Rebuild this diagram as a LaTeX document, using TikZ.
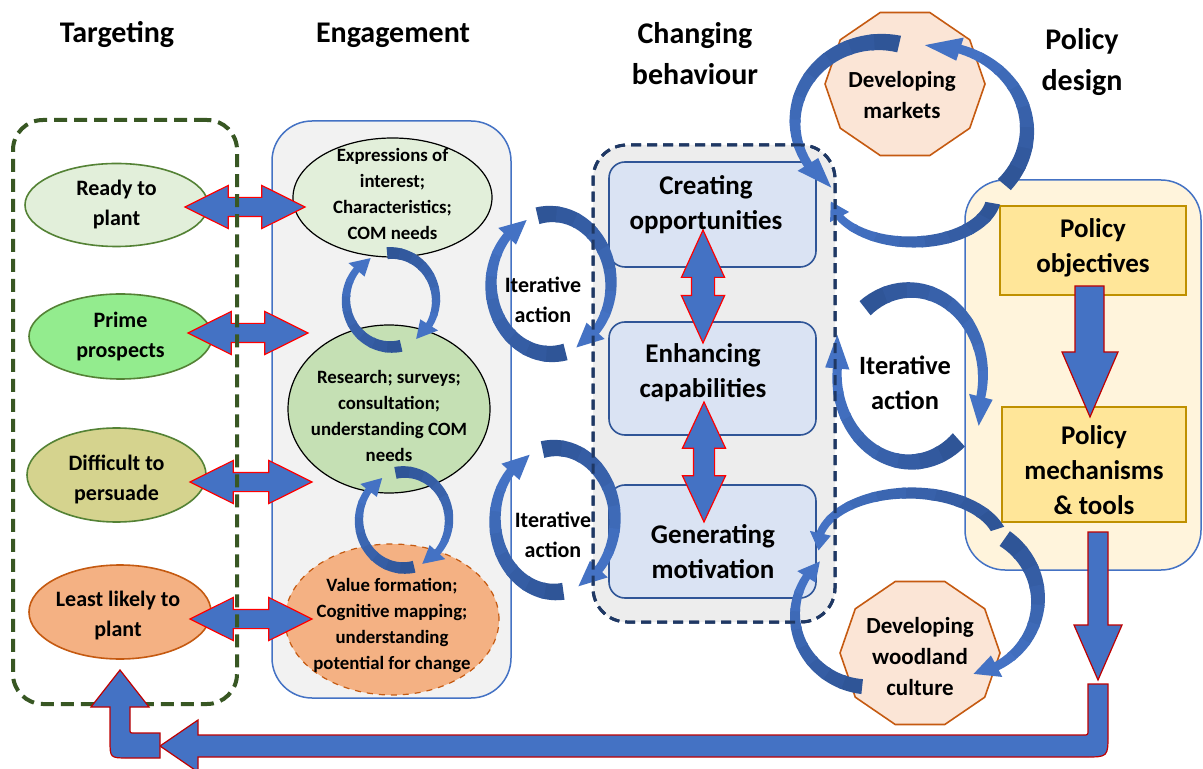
\documentclass[tikz,border=0pt]{standalone}
\usepackage{fontspec}
\setmainfont{Carlito}
\usetikzlibrary{shapes.geometric,shapes.arrows}
\definecolor{tgtline}{HTML}{385723}
\definecolor{readyfill}{HTML}{E2EFDA}
\definecolor{primefill}{HTML}{93EC8E}
\definecolor{difffill}{HTML}{D5D38E}
\definecolor{leastfill}{HTML}{F4B183}
\definecolor{gline}{HTML}{548235}
\definecolor{oline}{HTML}{C55A11}
\definecolor{engfill}{HTML}{F2F2F2}
\definecolor{blueline}{HTML}{4472C4}
\definecolor{resfill}{HTML}{C5E0B4}
\definecolor{chgfill}{HTML}{EDEDED}
\definecolor{chgline}{HTML}{1F3864}
\definecolor{boxfill}{HTML}{DAE3F3}
\definecolor{boxline}{HTML}{2F5597}
\definecolor{polfill}{HTML}{FFF4DC}
\definecolor{objfill}{HTML}{FFE699}
\definecolor{objline}{HTML}{BF9000}
\definecolor{octfill}{HTML}{FBE5D6}
\definecolor{arrblue}{HTML}{4472C4}
\definecolor{cdark}{HTML}{2F5597}
\definecolor{clight}{HTML}{4472C4}
\definecolor{redd}{HTML}{C00000}
\def\hf{1.3}
\def\tr{0}
% circular tapered arrow: cx cy rx ry tailangle endangle tipangle tailwidth endwidth
\newcommand\carrow[9]{%
  \foreach \k in {0,...,7}{%
    \pgfmathsetmacro\ta{(#5)+((#6)-(#5))*\k/8}%
    \pgfmathsetmacro\tb{(#5)+((#6)-(#5))*(\k+1.15)/8}%
    \pgfmathtruncatemacro\pc{100-\k*100/7}%
    \fill[cdark!\pc!clight] plot[domain=\ta:\tb,samples=6] ({#1+(#3+((#8)+((#9)-(#8))*(\x-(#5))/((#6)-(#5)))/2)*cos(\x)},{#2+(#4+((#8)+((#9)-(#8))*(\x-(#5))/((#6)-(#5)))/2)*sin(\x)}) -- plot[domain=\tb:\ta,samples=6] ({#1+(#3-((#8)+((#9)-(#8))*(\x-(#5))/((#6)-(#5)))/2)*cos(\x)},{#2+(#4-((#8)+((#9)-(#8))*(\x-(#5))/((#6)-(#5)))/2)*sin(\x)}) -- cycle;
  }%
  \fill[clight] ({#1+(#3-\hf*(#9))*cos(#6)},{#2+(#4-\hf*(#9))*sin(#6)}) -- ({#1+(#3+\hf*(#9))*cos(#6)},{#2+(#4+\hf*(#9))*sin(#6)}) -- ({#1+(#3+\tr)*cos(#7)},{#2+(#4+\tr)*sin(#7)}) -- cycle;
}
\tikzset{
 ttl/.style={inner sep=0,align=center,font=\fontsize{15}{20.5}\selectfont\bfseries},
 tE/.style={inner sep=0,align=center,font=\fontsize{11}{15}\selectfont\bfseries},
 tS/.style={inner sep=0,align=center,font=\fontsize{9.4}{13}\selectfont\bfseries},
 tB/.style={inner sep=0,align=center,font=\fontsize{13.5}{17.5}\selectfont\bfseries},
 tIL/.style={inner sep=0,align=center,font=\fontsize{13.2}{17.5}\selectfont\bfseries},
 tD/.style={inner sep=0,align=center,font=\fontsize{11.5}{15.5}\selectfont\bfseries},
 ell/.style={ellipse,inner sep=0,outer sep=0,line width=0.8pt},
 grp/.style={rectangle,inner sep=0,outer sep=0},
 sbox/.style={rectangle,rounded corners=8pt,inner sep=0,outer sep=0,minimum width=103.5pt,fill=boxfill,draw=boxline,line width=0.8pt},
 pbox/.style={rectangle,inner sep=0,outer sep=0,fill=objfill,draw=objline,line width=0.8pt},
 dec/.style={regular polygon,regular polygon sides=10,minimum size=80pt,inner sep=0,outer sep=0,yscale=0.94,transform shape,fill=octfill,draw=oline,line width=0.8pt},
 dbl/.style={double arrow,outer sep=0,fill=arrblue,draw=red,line width=0.6pt},
 bentarrow/.style={fill=arrblue,draw=redd,line width=0.6pt},
}
\begin{document}
\begin{tikzpicture}[x=0.5pt,y=-0.5pt]
\useasboundingbox (0,0) rectangle (1203,769);
\fill[white] (0,0) rectangle (1203,769);
% group boxes
\node[grp,minimum width=119.5pt,minimum height=288.5pt,rounded corners=20pt,fill=engfill,draw=blueline,line width=0.75pt] (eng) at (391.5,409.5) {};
\node[grp,minimum width=121pt,minimum height=238.5pt,rounded corners=17pt,fill=chgfill,draw=chgline,line width=1.5pt,dash pattern=on 5pt off 3pt] (chg) at (714,383.5) {};
\node[grp,minimum width=118pt,minimum height=195pt,rounded corners=20pt,fill=polfill,draw=blueline,line width=0.75pt] (pol) at (1083,375) {};
% targeting ellipses
\node[ell,minimum width=91.5pt,minimum height=41.5pt,fill=readyfill,draw=gline] (ready) at (116.5,205) {};
\node[ell,minimum width=91.5pt,minimum height=42.5pt,fill=primefill,draw=gline] (prime) at (120.5,336.5) {};
\node[ell,minimum width=89.5pt,minimum height=47pt,fill=difffill,draw=gline] (diff) at (116.5,475) {};
\node[ell,minimum width=91pt,minimum height=47pt,fill=leastfill,draw=oline] (least) at (120,612) {};
% engagement ellipses
\node[ell,minimum width=99.5pt,minimum height=59.5pt,fill=readyfill,draw=black,line width=0.6pt] (expr) at (392.5,197.5) {};
\node[ell,minimum width=101pt,minimum height=84pt,fill=resfill,draw=black,line width=0.6pt] (res) at (389,409) {};
\node[ell,minimum width=107pt,minimum height=75.5pt,fill=leastfill,draw=oline,line width=0.6pt,dashed] (val) at (392,619.5) {};
% changing behaviour boxes
\node[sbox,minimum height=52.5pt] (create) at (712.5,214.5) {};
\node[sbox,minimum height=56.5pt] (enhance) at (712.5,378.5) {};
\node[sbox,minimum height=56.5pt] (generate) at (712.5,541.5) {};
% policy boxes
\node[pbox,minimum width=93pt,minimum height=44.5pt] (obj) at (1093,250.5) {};
\node[pbox,minimum width=92pt,minimum height=57.5pt] (mech) at (1094,464.5) {};
% decagons
\begin{scope}[shift={(905,84)}]\node[dec] (mkt) at (0,0) {};\end{scope}
\begin{scope}[shift={(920,653)}]\node[dec] (wood) at (0,0) {};\end{scope}
% circular arrows: engagement
\def\hf{1.5}
\carrow{391}{300}{45}{47}{77}{220}{243}{12}{7}
\carrow{391}{300}{45}{47}{265}{392}{416}{12}{7}
\carrow{404}{520}{45}{48}{77}{218}{241}{12}{7}
\carrow{404}{520}{45}{48}{259}{402}{426}{12}{7}
% iterative action left
\def\hf{1.35}
\carrow{551}{284}{60}{70}{76}{223}{246}{17}{9}
\carrow{551}{284}{60}{70}{257}{402}{425}{17}{9}
\carrow{555}{520}{60}{72}{82}{222}{245}{17}{9}
\carrow{555}{520}{60}{72}{258}{403}{427}{17}{9}
% iterative action right
\def\tr{8}
\carrow{910}{376}{73}{86}{232}{374}{392}{18}{9}
\carrow{910}{376}{73}{86}{48}{185}{206}{18}{9}
\def\tr{0}
% markets loops
\carrow{880}{122}{85}{80}{283}{148}{125}{17}{9}
\carrow{930}{130}{97}{85}{40}{-72}{-93}{17}{9}
\carrow{912}{195}{82}{47}{10}{152}{172}{15}{8}
% woodland loops
\carrow{910}{545}{92}{52}{342}{193}{174}{14}{8}
\carrow{960}{600}{78}{75}{-55}{62}{80}{18}{9}
\carrow{870}{615}{75}{72}{96}{212}{228}{15}{8}
% redraw dashed border of changing-behaviour group over the arrows
\node[grp,minimum width=121pt,minimum height=238.5pt,rounded corners=17pt,draw=chgline,line width=1.5pt,dash pattern=on 5pt off 3pt] (chgborder) at (714,383.5) {};
% double arrows targeting <-> engagement
\node[dbl,inner sep=4.5pt,minimum height=60pt,minimum width=21pt,double arrow head extend=6pt,double arrow tip angle=53] (da1) at (245,207) {};
\node[dbl,inner sep=4.5pt,minimum height=60pt,minimum width=21pt,double arrow head extend=6pt,double arrow tip angle=53] (da2) at (248,333) {};
\node[dbl,inner sep=4.5pt,minimum height=61pt,minimum width=21pt,double arrow head extend=6pt,double arrow tip angle=53] (da3) at (251,482) {};
\node[dbl,inner sep=4.5pt,minimum height=61pt,minimum width=21pt,double arrow head extend=6pt,double arrow tip angle=53] (da4) at (251,619) {};
% targeting group border (dashed, drawn over the arrows)
\node[grp,minimum width=112pt,minimum height=292pt,rounded corners=15pt,draw=tgtline,line width=2pt,dash pattern=on 6.5pt off 3.5pt] (tgt) at (125,412) {};
% vertical double arrows
\node[dbl,inner sep=5.5pt,shape border rotate=90,minimum height=56.5pt,minimum width=21pt,double arrow head extend=5pt,double arrow tip angle=49] (dv1) at (703,286.5) {};
\node[dbl,inner sep=5pt,shape border rotate=90,minimum height=60pt,minimum width=21pt,double arrow head extend=5.5pt,double arrow tip angle=50] (dv2) at (704,462) {};
% policy block arrows
\draw[bentarrow] (1075,286) -- (1104,286) -- (1104,352) -- (1118,352) -- (1090,417) -- (1062,352) -- (1075,352) -- cycle;
\draw[bentarrow] (1088,532) -- (1108,532) -- (1108,625) -- (1122,625) -- (1098,680) -- (1074,625) -- (1088,625) -- cycle;
% bent return arrows
\draw[bentarrow] (1088,684) -- (1108,684) -- (1108,734) .. controls (1108,757) .. (1085,757) -- (198,757) -- (198,772) -- (160,746) -- (198,720) -- (198,735) -- (1083,735) .. controls (1088,735) .. (1088,730) -- cycle;
\draw[bentarrow] (160,733) -- (134,733) .. controls (130,733) .. (130,729) -- (130,707) -- (149,707) -- (120,670) -- (91,707) -- (110,707) -- (110,740) .. controls (110,758) .. (128,758) -- (160,758) -- cycle;
% titles
\node[ttl] (t1) at (117,35) {Targeting};
\node[ttl] (t2) at (393,35) {Engagement};
\node[ttl] (t3) at (695,54) {Changing\\behaviour};
\node[ttl] (t4) at (1082,62) {Policy\\design};
% texts
\node[tE] (readyT) at (116.5,205) {Ready to\\plant};
\node[tE] (primeT) at (120.5,337) {Prime\\prospects};
\node[tE] (diffT) at (116.5,479) {Difficult to\\persuade};
\node[tE] (leastT) at (118,616) {Least likely to\\plant};
\node[tS] (exprT) at (392.5,194) {Expressions of\\interest;\\Characteristics;\\COM needs};
\node[tS] (resT) at (389,416) {Research; surveys;\\consultation;\\understanding COM\\needs};
\node[tS] (valT) at (392,625) {Value formation;\\Cognitive mapping;\\understanding\\potential for change};
\node[tB] (createT) at (706,205) {Creating\\opportunities};
\node[tB] (enhanceT) at (703,372.5) {Enhancing\\capabilities};
\node[tB] (generateT) at (713,552) {Generating\\motivation};
\node[tE] (it1) at (543,300) {Iterative\\action};
\node[tE] (it2) at (553,535) {Iterative\\action};
\node[tIL] (it3) at (905,383) {Iterative\\action};
\node[tB] (objT) at (1093,248) {Policy\\objectives};
\node[tB] (mechT) at (1094,470) {Policy\\mechanisms\\\& tools};
\node[tD] (mktT) at (902,95) {Developing\\markets};
\node[tD] (woodT) at (920,657) {Developing\\woodland\\culture};
\end{tikzpicture}
\end{document}
